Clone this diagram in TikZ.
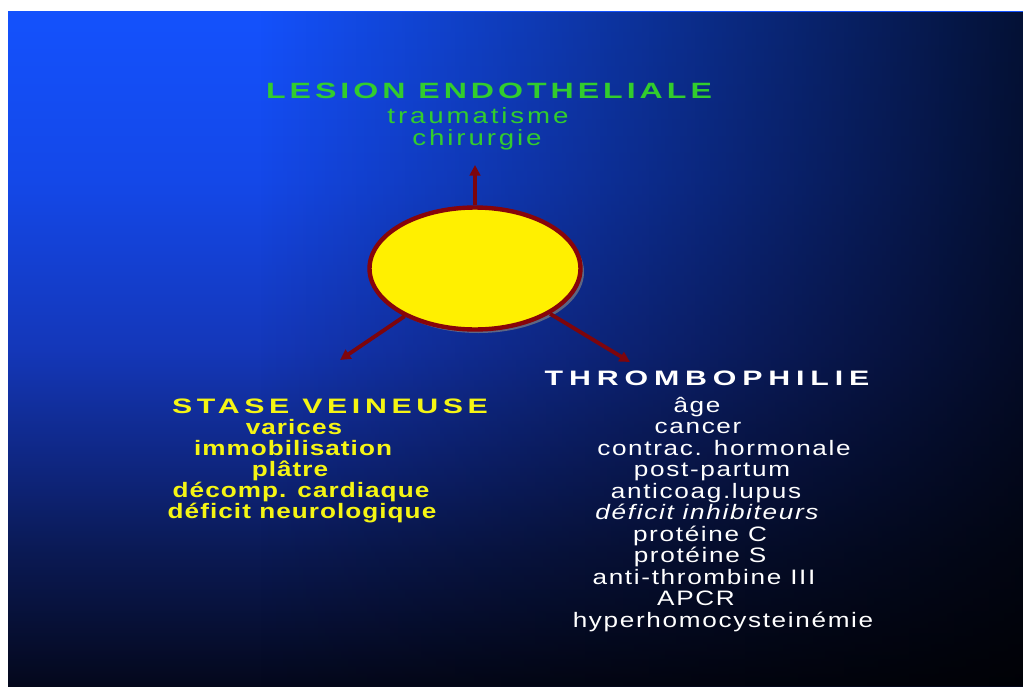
\documentclass[tikz,border=0pt]{standalone}
\usepackage{fontspec}
\setmainfont{Liberation Sans}
\newfontfamily\lesionfont[FakeStretch=1.45, LetterSpace=18]{Liberation Sans}
\newfontfamily\greenfont[FakeStretch=1.25, LetterSpace=13]{Liberation Sans}
\newfontfamily\stasefont[FakeStretch=1.45, LetterSpace=22]{Liberation Sans}
\newfontfamily\thrombofont[FakeStretch=1.45, LetterSpace=28]{Liberation Sans}
\newfontfamily\listfont[FakeStretch=1.25, LetterSpace=5]{Liberation Sans}
\newfontfamily\whitefont[FakeStretch=1.25, LetterSpace=8]{Liberation Sans}
\usetikzlibrary{arrows.meta,shapes.geometric,shadows,fadings}

\definecolor{blobyellow}{RGB}{255,240,0}
\definecolor{blobred}{RGB}{135,5,10}
\definecolor{arrowred}{RGB}{125,5,12}
\definecolor{lesiongreen}{RGB}{50,205,45}
\definecolor{staseyellow}{RGB}{245,245,20}

% background: the path box is mapped to 25bp--75bp
\pgfdeclareverticalshading{slidebg}{100bp}{rgb(0bp)=(0.016,0.031,0.11); rgb(25bp)=(0.016,0.031,0.11); rgb(35bp)=(0.04,0.1,0.33); rgb(42.5bp)=(0.06,0.157,0.53); rgb(50bp)=(0.078,0.216,0.725); rgb(62.5bp)=(0.078,0.282,0.91); rgb(75bp)=(0.078,0.32,0.99); rgb(100bp)=(0.078,0.32,0.99)}
\tikzfading[name=rightdark, left color=transparent!100, right color=transparent!6]

\tikzset{
  headtext/.style={inner sep=0pt, anchor=base},
  itemtext/.style={inner sep=0pt, anchor=base, font=\whitefont\fontsize{11.9pt}{12pt}\selectfont},
  blob/.style={ellipse, draw=blobred, line width=2.5pt, fill=blobyellow, inner sep=0pt,
    minimum width=4.22cm, minimum height=2.44cm,
    drop shadow={shadow xshift=2pt, shadow yshift=-2pt, opacity=0.7}},
  branch/.style={draw=arrowred, line width=2.2pt, -{Triangle[width=6pt,length=6pt]}}
}

\begin{document}
\begin{tikzpicture}[x=0.02cm, y=-0.02cm]
  \useasboundingbox (0,0) rectangle (1023,686);
  \fill[white] (0,0) rectangle (1023,686);
  % Slide background
  \shade[shading=slidebg] (8,12) rectangle (1023,686);
  \begin{scope}
    \clip (8,12) rectangle (1023,686);
    \fill[black, path fading=rightdark] (260,12) rectangle (1170,686);
  \end{scope}
  % Central ellipse and arrows
  \node[blob] (triad) at (475,268.5) {};
  \coordinate (tipup) at (475,165);
  \coordinate (tipleft) at (340,360);
  \coordinate (tipright) at (630,362);
  \draw[branch] (triad) -- (tipup);
  \draw[branch] (triad) -- (tipleft);
  \draw[branch] (triad) -- (tipright);
  % Lesion endotheliale
  \node[headtext, lesiongreen, font=\lesionfont\bfseries\fontsize{12.6pt}{13pt}\selectfont] (lesion) at (489,98) {LESION ENDOTHELIALE};
  \node[itemtext, lesiongreen, font=\greenfont\fontsize{12.6pt}{13pt}\selectfont] (trauma) at (478,123) {traumatisme};
  \node[itemtext, lesiongreen, font=\greenfont\fontsize{12.6pt}{13pt}\selectfont] (chir) at (477,145) {chirurgie};
  % Stase veineuse
  \node[headtext, staseyellow, font=\stasefont\bfseries\fontsize{11.9pt}{12pt}\selectfont] (stase) at (330,413) {STASE VEINEUSE};
  \node[itemtext, staseyellow, font=\listfont\bfseries\fontsize{11.9pt}{12pt}\selectfont] (varices) at (294,434) {varices};
  \node[itemtext, staseyellow, font=\listfont\bfseries\fontsize{11.9pt}{12pt}\selectfont] (immob) at (293,455) {immobilisation};
  \node[itemtext, staseyellow, font=\listfont\bfseries\fontsize{11.9pt}{12pt}\selectfont] (platre) at (290,476) {plâtre};
  \node[itemtext, staseyellow, font=\listfont\bfseries\fontsize{11.9pt}{12pt}\selectfont] (decomp) at (301,497) {décomp. cardiaque};
  \node[itemtext, staseyellow, font=\listfont\bfseries\fontsize{11.9pt}{12pt}\selectfont] (deficitn) at (302,518) {déficit neurologique};
  % Thrombophilie
  \node[headtext, white, font=\thrombofont\bfseries\fontsize{11.9pt}{12pt}\selectfont] (thrombo) at (707,385) {THROMBOPHILIE};
  \node[itemtext, white] (age) at (697,412) {âge};
  \node[itemtext, white] (cancer) at (698,433.5) {cancer};
  \node[itemtext, white] (contrac) at (724,455) {contrac. hormonale};
  \node[itemtext, white] (postpartum) at (712,476.5) {post-partum};
  \node[itemtext, white] (anticoag) at (706,498) {anticoag.lupus};
  \node[itemtext, white, font=\whitefont\itshape\fontsize{11.9pt}{12pt}\selectfont] (deficiti) at (707,519.5) {déficit inhibiteurs};
  \node[itemtext, white] (protc) at (700,541) {protéine C};
  \node[itemtext, white] (prots) at (700,562.5) {protéine S};
  \node[itemtext, white] (antithr) at (704,584) {anti-thrombine III};
  \node[itemtext, white] (apcr) at (696,605.5) {APCR};
  \node[itemtext, white] (hyperhom) at (723,627) {hyperhomocysteinémie};
\end{tikzpicture}
\end{document}
